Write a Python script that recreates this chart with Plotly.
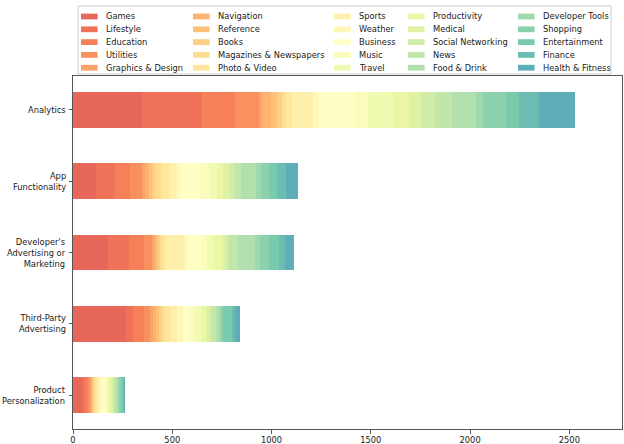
import plotly.graph_objects as go

# ---------------- data ----------------
categories = ["Analytics", "App Functionality", "Developer's Advertising or Marketing",
              "Third-Party Advertising", "Product Personalization"]
tick_labels = ["Analytics", "App<br>Functionality", "Developer's<br>Advertising or<br>Marketing",
               "Third-Party<br>Advertising", "Product<br>Personalization"]

series = ["Games", "Lifestyle", "Education", "Utilities", "Graphics & Design",
          "Navigation", "Reference", "Books", "Magazines & Newspapers", "Photo & Video",
          "Sports", "Weather", "Business", "Music", "Travel",
          "Productivity", "Medical", "Social Networking", "News", "Food & Drink",
          "Developer Tools", "Shopping", "Entertainment", "Finance", "Health & Fitness"]

analytics = [346, 305, 163, 122, 15, 45, 29, 28, 19, 29, 106, 33, 180, 64, 129,
             79, 60, 72, 86, 119, 37, 114, 67, 99, 184]
app_functionality = [117, 94, 76, 59, 17, 20, 15, 15, 30, 40, 37, 19, 104, 42, 39,
                     32, 35, 25, 29, 76, 27, 40, 37, 47, 62]
developer_marketing = [176, 106, 76, 39, 12, 10, 10, 10, 15, 15, 91, 15, 77, 24, 27,
                       50, 19, 15, 42, 88, 27, 45, 47, 34, 45]
third_party = [266, 37, 55, 30, 15, 15, 15, 14, 17, 30, 32, 29, 30, 30, 29,
               28, 14, 15, 19, 17, 10, 10, 42, 17, 25]
product_personalization = [47, 14, 15, 10, 5, 5, 5, 5, 5, 10, 10, 10, 18, 10, 12,
                           10, 8, 8, 10, 10, 5, 10, 12, 5, 3]

x_ticks = [0, 500, 1000, 1500, 2000, 2500]

rows = [analytics, app_functionality, developer_marketing, third_party, product_personalization]

# ---------------- colours (Spectral colormap) ----------------
SPECTRAL = [(158, 1, 66), (213, 62, 79), (244, 109, 67), (253, 174, 97), (254, 224, 139),
            (255, 255, 191), (230, 245, 152), (171, 221, 164), (102, 194, 165),
            (50, 136, 189), (94, 79, 162)]


def spectral(t):
    pos = t * 10
    i = min(int(pos), 9)
    f = pos - i
    a, b = SPECTRAL[i], SPECTRAL[i + 1]
    return tuple(a[k] + (b[k] - a[k]) * f for k in range(3))


ALPHA = 0.9
colors = []
for i in range(len(series)):
    r, g, b = spectral(0.15 + 0.7 * i / (len(series) - 1))
    colors.append(f"rgba({r:.0f},{g:.0f},{b:.0f},{ALPHA})")

# ---------------- figure ----------------
fig = go.Figure()
for i, name in enumerate(series):
    fig.add_trace(go.Bar(
        orientation="h",
        y=categories,
        x=[row[i] for row in rows],
        name=name,
        marker=dict(color=colors[i], line=dict(width=0)),
        showlegend=False,
    ))

W, H = 624, 444
L, R, T, B = 73, 2, 76, 15
PW, PH = W - L - R, H - T - B


def px_x(px):
    return (px - L) / PW


def px_y(py):
    return (H - B - py) / PH


FONT = "DejaVu Sans"
FS = 8.3
TXT = "#1a1a1a"

shapes = []
annotations = []
# legend frame
shapes.append(dict(type="rect", xref="paper", yref="paper",
                   x0=px_x(78), x1=px_x(611), y0=px_y(74), y1=px_y(6),
                   line=dict(color="rgba(204,204,204,1)", width=1),
                   fillcolor="rgba(255,255,255,0.8)", layer="above"))
swatch_x = [81, 193, 334, 408, 518]
row_y0 = 16.5
row_dy = 12.8
for i, name in enumerate(series):
    col, row = divmod(i, 5)
    sx = swatch_x[col]
    cy = row_y0 + row * row_dy
    shapes.append(dict(type="rect", xref="paper", yref="paper",
                       x0=px_x(sx), x1=px_x(sx + 16.6), y0=px_y(cy + 2.9), y1=px_y(cy - 2.9),
                       line=dict(width=0), fillcolor=colors[i], layer="above"))
    annotations.append(dict(xref="paper", yref="paper", x=px_x(sx + 23.2), y=px_y(cy),
                            text=name, showarrow=False, xanchor="left", yanchor="middle",
                            font=dict(family=FONT, size=FS, color=TXT)))

# y tick labels, right-aligned (multi-line)
for cat, lab in zip(categories, tick_labels):
    annotations.append(dict(xref="paper", yref="y", x=0, y=cat, xshift=-5.5,
                            text=lab, showarrow=False, xanchor="right", yanchor="middle",
                            align="right", font=dict(family=FONT, size=FS, color=TXT)))

fig.update_layout(
    width=W, height=H,
    margin=dict(l=L, r=R, t=T, b=B, pad=0),
    barmode="stack",
    bargap=0.5,
    plot_bgcolor="white",
    paper_bgcolor="white",
    font=dict(family=FONT, size=FS, color=TXT),
    shapes=shapes,
    annotations=annotations,
    xaxis=dict(range=[0, 2765], tickvals=x_ticks, ticktext=[str(v) for v in x_ticks],
               showgrid=False, zeroline=False, showline=True, linecolor="#555", linewidth=1,
               mirror=True, ticks="outside", ticklen=3.5, tickcolor="#555", tickwidth=1,
               automargin=False,
               tickfont=dict(family=FONT, size=FS, color=TXT)),
    yaxis=dict(type="category", categoryorder="array", categoryarray=categories,
               range=[4.475, -0.475], tickvals=categories, showticklabels=False,
               showgrid=False, zeroline=False, showline=True, linecolor="#555", linewidth=1,
               mirror=True, ticks="outside", ticklen=3.5, tickcolor="#555", tickwidth=1,
               automargin=False),
)

fig.write_html("out.html", config={"displayModeBar": False},
               post_script="document.body.style.margin='0';")
